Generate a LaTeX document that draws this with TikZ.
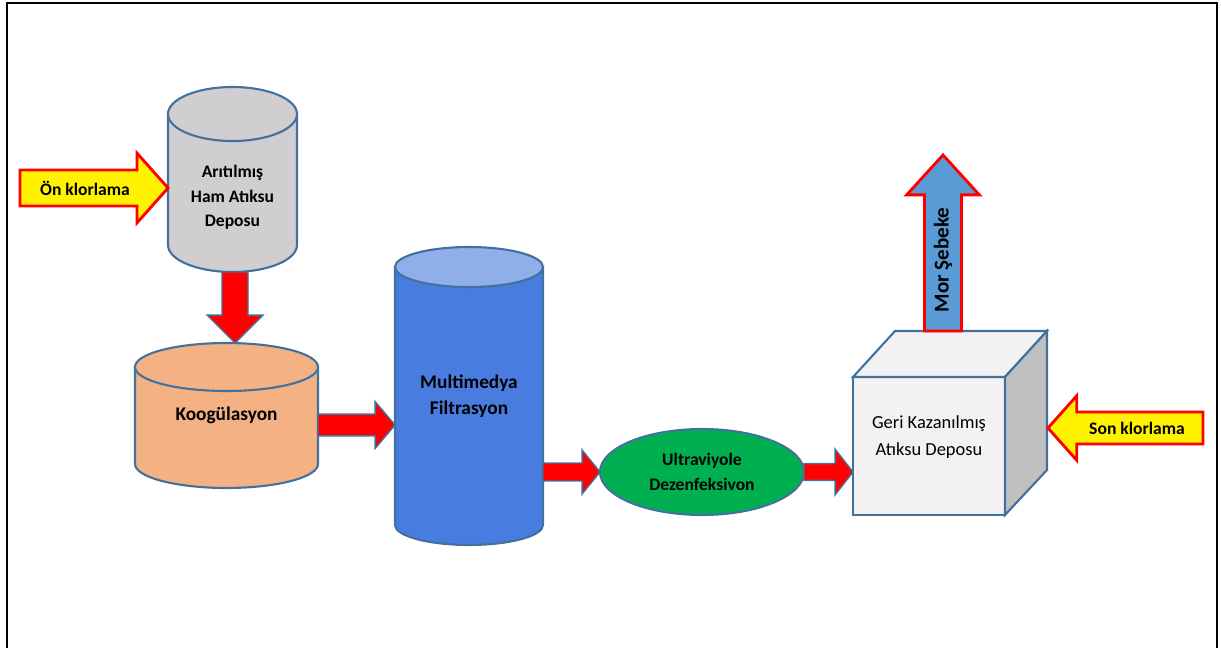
\documentclass[tikz,border=0pt]{standalone}
\usepackage{fontspec}
\setmainfont{Carlito}
\usepackage{tikz}
\usetikzlibrary{calc,shapes.geometric,backgrounds}

\definecolor{edge}{HTML}{41719C}
\definecolor{cgray}{HTML}{D0CECE}
\definecolor{corange}{HTML}{F4B183}
\definecolor{cblue}{HTML}{487CDE}
\definecolor{cbluetop}{HTML}{8FAEEA}
\definecolor{cgreen}{HTML}{00B050}
\definecolor{cfront}{HTML}{F2F2F2}
\definecolor{cside}{HTML}{C0C0C0}
\definecolor{cmor}{HTML}{5B9BD5}

% style, from, to, shaft half width, head half width, head length
\newcommand\blockarrow[6]{%
	\coordinate (ah) at ($(#3)!#6!(#2)$);
	\filldraw[#1] ($(#2)!#4!90:(#3)$) -- ($(ah)!#4!-90:(#2)$) -- ($(ah)!#5!-90:(#2)$) -- (#3)
		-- ($(ah)!#5!90:(#2)$) -- ($(ah)!#4!90:(#2)$) -- ($(#2)!#4!-90:(#3)$) -- cycle;
}

\begin{document}
\begin{tikzpicture}[x=0.02cm, y=-0.02cm,
	cyl/.style={draw=edge, line width=1.2pt},
	body/.style={inner sep=0pt, outer sep=0pt},
	lbl/.style={font=\bfseries\fontsize{10}{14}\selectfont, align=center, text=black},
	redarrow/.style={fill=red, draw=edge, line width=0.8pt},
	feedarrow/.style={fill=yellow, draw=red, line width=1.6pt},
	]
	%\draw[help lines] (0,0) grid[step=50] (1221,648);
	\useasboundingbox (0,0) rectangle (1221,648);
	\draw[line width=1.2pt] (7,648) -- (7,3) -- (1217,3) -- (1217,648);

	\node[body, minimum width=2.58cm, minimum height=2.62cm] (raw) at (232.5,179.5) {};
	\node[lbl] (rawlbl) at ($(raw)+(0,18)$) {Arıtılmış\\Ham Atıksu\\Deposu};
	\node[body, lbl, font=\bfseries\fontsize{11}{14}\selectfont, minimum width=3.66cm, minimum height=1.94cm] (kog) at (226.5,415.5) {Koogülasyon};
	\node[body, lbl, font=\bfseries\fontsize{11}{15}\selectfont, minimum width=2.96cm, minimum height=5.16cm] (filt) at (469,396) {Multimedya\\Filtrasyon};
	\node[body, lbl, ellipse, cyl, fill=cgreen, minimum width=4.08cm, minimum height=1.72cm] (uv) at (702,472) {Ultraviyole\\Dezenfeksivon};
	\node[body, cyl, fill=cfront, minimum width=3.04cm, minimum height=2.76cm] (geri) at (929,446) {};
	\node[lbl, font=\fontsize{10.5}{15}\selectfont] (gerilbl) at ($(geri)+(0,-9)$) {Geri Kazanılmış\\Atıksu Deposu};

	\begin{scope}[on background layer]
		\filldraw[cyl, fill=cgray] (raw.north west) -- (raw.south west) arc[start angle=180, end angle=0, x radius=64.5, y radius=27] -- (raw.north east) -- cycle;
		\filldraw[cyl, fill=cgray] (raw.north) ellipse[x radius=64.5, y radius=27];
		\filldraw[cyl, fill=corange] (kog.north west) -- (kog.south west) arc[start angle=180, end angle=0, x radius=91.5, y radius=24] -- (kog.north east) -- cycle;
		\filldraw[cyl, fill=corange] (kog.north) ellipse[x radius=91.5, y radius=24];
		\filldraw[cyl, fill=cblue] (filt.north west) -- (filt.south west) arc[start angle=180, end angle=0, x radius=74, y radius=20] -- (filt.north east) -- cycle;
		\filldraw[cyl, fill=cbluetop] (filt.north) ellipse[x radius=74, y radius=20];
	\end{scope}
	\filldraw[cyl, fill=cfront] (geri.north west) -- ++(42,-46) -- ++(152,0) -- (geri.north east) -- cycle;
	\filldraw[cyl, fill=cside] (geri.north east) -- ++(42,-46) -- ++(0,139) -- (geri.south east) -- cycle;

	\coordinate (onstart) at (20,188);
	\coordinate (onend) at ($(raw.west)+(0,8.5)$);
	\coordinate (rawbot) at ($(raw.south)+(2.5,27)$);
	\coordinate (kogtop) at ($(kog.north)+(8.5,-24)$);
	\coordinate (kogout) at ($(kog.east)+(0,9.5)$);
	\coordinate (filtin) at ($(filt.west)+(0,29)$);
	\coordinate (filtout) at ($(filt.east)+(0,76)$);
	\coordinate (geriin) at ($(geri.west)+(0,26)$);
	\coordinate (morstart) at ($(geri.north)+(14,-46)$);
	\coordinate (morend) at (943,155);
	\coordinate (sonstart) at (1203,428);
	\coordinate (sonend) at ($(geri.north east)+(43,51)$);

	\blockarrow{feedarrow}{onstart}{onend}{10.2pt}{19.8pt}{17.6pt}
	\blockarrow{redarrow}{rawbot}{kogtop}{7.4pt}{15.9pt}{15.9pt}
	\blockarrow{redarrow}{kogout}{filtin}{6.2pt}{13.3pt}{11.3pt}
	\blockarrow{redarrow}{filtout}{uv.west}{5.1pt}{12.5pt}{10.2pt}
	\blockarrow{redarrow}{uv.east}{geriin}{4.8pt}{13pt}{10.2pt}
	\blockarrow{feedarrow, fill=cmor}{morstart}{morend}{10.5pt}{20.7pt}{22.7pt}
	\blockarrow{feedarrow}{sonstart}{sonend}{9.1pt}{18.4pt}{16.4pt}

	\node[lbl] (onlbl) at (85,188) {Ön klorlama};
	\node[lbl] (sonlbl) at (1137,428) {Son klorlama};
	\node[lbl, font=\bfseries\fontsize{12}{14}\selectfont, rotate=90] (morlbl) at (943,260) {Mor Şebeke};
\end{tikzpicture}
\end{document}
